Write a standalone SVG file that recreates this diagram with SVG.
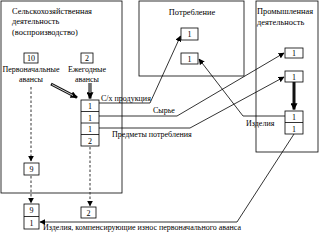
<svg xmlns="http://www.w3.org/2000/svg" width="321" height="232" viewBox="0 0 321 232" font-family="'Liberation Serif','Times New Roman',serif">
<style>
text{font-family:"Liberation Serif","Times New Roman",serif;font-size:8px;fill:#000}
.h{font-size:8.4px}
.b{fill:#fff;stroke:#000;stroke-width:0.8}
.f{fill:none;stroke:#000;stroke-width:0.8}
.c{text-anchor:middle;font-size:8px}
.th{fill:none;stroke:#111;stroke-width:3}
.tw{fill:none;stroke:#fff;stroke-width:0.8}
.d{fill:none;stroke:#333;stroke-width:1;stroke-dasharray:2.5,2}
</style>
<defs>
<marker id="a" viewBox="0 0 10 10" refX="9" refY="5" markerWidth="6" markerHeight="6" orient="auto" markerUnits="userSpaceOnUse"><path d="M0,0L10,5L0,10z" fill="#000"/></marker>
<marker id="at" viewBox="0 0 10 10" refX="9" refY="5" markerWidth="7" markerHeight="7" orient="auto" markerUnits="userSpaceOnUse"><path d="M0,0L10,5L0,10z" fill="#000"/></marker>
</defs>
<g id="agriculture">
<rect class="f" x="1" y="1" width="121" height="192"/>
<text class="h" x="12" y="14">Сельскохозяйственная</text>
<text class="h" x="12" y="24">деятельность</text>
<text class="h" x="12" y="35">(воспроизводство)</text>
</g>
<g id="consumption">
<rect class="f" x="139" y="1" width="105" height="75"/>
<text class="h" x="192" y="15" text-anchor="middle">Потребление</text>
</g>
<g id="industry">
<rect class="f" x="256" y="1" width="62" height="151"/>
<text class="h" x="257" y="14">Промышленная</text>
<text class="h" x="257" y="25">деятельность</text>
</g>
<g id="n10"><rect class="b" x="24" y="53" width="14" height="10"/><text class="c" x="31" y="61">10</text>
<text class="c" x="31" y="72">Первоначальные</text><text class="c" x="31" y="82">авансы</text></g>
<g id="n2a"><rect class="b" x="81" y="53" width="12" height="10"/><text class="c" x="87" y="61">2</text>
<text class="c" x="87" y="72">Ежегодные</text><text class="c" x="87" y="82">авансы</text></g>
<g id="stack">
<rect class="b" x="81" y="100" width="18" height="46"/>
<path class="f" d="M81,111.5H99M81,123H99M81,134.5H99"/>
<text class="c" x="90" y="109">1</text><text class="c" x="90" y="120.5">1</text><text class="c" x="90" y="132">1</text><text class="c" x="90" y="143.5">2</text>
</g>
<g id="n9"><rect class="b" x="24" y="163" width="15" height="12"/><text class="c" x="31.5" y="172">9</text></g>
<g id="n91"><rect class="b" x="24" y="204" width="15" height="25"/><path class="f" d="M24,216.5H39"/><text class="c" x="31.5" y="213">9</text><text class="c" x="31.5" y="226">1</text></g>
<g id="n2b"><rect class="b" x="81" y="207" width="15" height="11"/><text class="c" x="88.5" y="215.5">2</text></g>
<g id="c1"><rect class="b" x="181" y="28" width="17" height="12"/><text class="c" x="189.5" y="37">1</text></g>
<g id="c2"><rect class="b" x="181" y="53" width="17" height="11"/><text class="c" x="189.5" y="61.5">1</text></g>
<g id="i1"><rect class="b" x="285" y="48" width="18" height="10"/><text class="c" x="294" y="56">1</text></g>
<g id="i2"><rect class="b" x="285" y="71" width="18" height="11"/><text class="c" x="294" y="79.5">1</text></g>
<g id="istack"><rect class="b" x="285" y="111" width="18" height="23"/><path class="f" d="M285,122.5H303"/><text class="c" x="294" y="120">1</text><text class="c" x="294" y="131.5">1</text></g>
<g id="connectors">
<path class="th" d="M51,84L77,97.5" marker-end="url(#at)"/>
<path class="tw" d="M52,84.5L73,95.5"/>
<path class="th" d="M90,83V98.5" marker-end="url(#at)"/>
<path class="tw" d="M90,83V93"/>
<path class="th" d="M294,82V109.5" marker-end="url(#at)"/>
<path class="d" d="M31,87V161" marker-end="url(#a)"/>
<path class="d" d="M31,176V203" marker-end="url(#a)"/>
<path class="d" d="M90,147V206" marker-end="url(#a)"/>
<path class="f" d="M99,103H150L180.5,36" marker-end="url(#a)"/>
<path class="f" d="M99,116H177L284,53" marker-end="url(#a)"/>
<path class="f" d="M99,128H190L284,77" marker-end="url(#a)"/>
<path class="f" d="M285,116H243L199,59" marker-end="url(#a)"/>
<path class="f" d="M294,134L237,222H40" marker-end="url(#a)"/>
</g>
<g id="labels">
<text x="101" y="101">С/х продукция</text>
<text x="153" y="113">Сырье</text>
<text x="112" y="137">Предметы потребления</text>
<text x="246" y="126">Изделия</text>
<text x="43" y="230">Изделия, компенсирующие износ первоначального аванса</text>
</g>
</svg>
